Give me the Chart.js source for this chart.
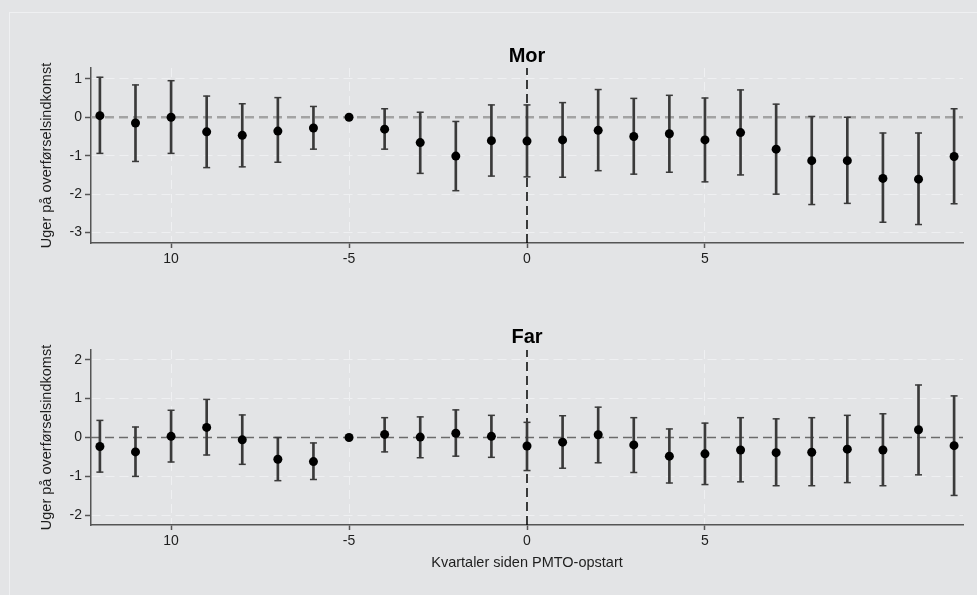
<!DOCTYPE html>
<html lang="da">
<head>
    <meta charset="UTF-8">
    <title>Uger på overførselsindkomst</title>
    <script src="https://cdn.jsdelivr.net/npm/chart.js"></script>
    <style>
        body {
            margin: 0;
            width: 977px;
            height: 595px;
            overflow: hidden;
            background-color: #e3e4e6;
            font-family: "Liberation Sans", Arial, sans-serif;
        }
        .ramme {
            position: absolute;
            left: 9px;
            top: 12px;
            right: 0;
            bottom: 0;
            border-left: 1px solid #eff0f2;
            border-top: 1px solid #eff0f2;
        }
        canvas {
            position: absolute;
            left: 0;
        }
        #graf_mor { top: 0; }
        #graf_far { top: 290px; }
    </style>
</head>
<body>
    <div class="ramme"></div>
    <canvas id="graf_mor" width="977" height="290"></canvas>
    <canvas id="graf_far" width="977" height="305"></canvas>

    <script>
        // Kvartaler relativt til PMTO-opstart (kvartal -5 er referencen)
        const kvartaler = [-12, -11, -10, -9, -8, -7, -6, -5, -4, -3, -2, -1, 0, 1, 2, 3, 4, 5, 6, 7, 8, 9, 10, 11, 12];

        // Estimater og 95%-konfidensintervaller, mor
        const morEst = [0.04, -0.15, 0.00, -0.38, -0.47, -0.36, -0.28, 0, -0.31, -0.66, -1.01, -0.61, -0.62, -0.59, -0.34, -0.50, -0.43, -0.59, -0.40, -0.83, -1.13, -1.13, -1.59, -1.61, -1.02];
        const morLav = [-0.94, -1.15, -0.94, -1.31, -1.29, -1.17, -0.83, null, -0.83, -1.46, -1.91, -1.53, -1.55, -1.56, -1.39, -1.48, -1.43, -1.68, -1.50, -2.00, -2.27, -2.24, -2.73, -2.79, -2.25];
        const morHoj = [1.04, 0.84, 0.95, 0.55, 0.35, 0.51, 0.28, null, 0.22, 0.13, -0.11, 0.32, 0.32, 0.38, 0.72, 0.49, 0.57, 0.50, 0.71, 0.34, 0.02, 0.00, -0.41, -0.41, 0.22];

        // Estimater og 95%-konfidensintervaller, far
        const farEst = [-0.23, -0.37, 0.03, 0.26, -0.06, -0.56, -0.62, 0, 0.08, 0.01, 0.11, 0.03, -0.22, -0.12, 0.07, -0.19, -0.48, -0.42, -0.32, -0.39, -0.38, -0.30, -0.32, 0.20, -0.21];
        const farLav = [-0.89, -1.00, -0.63, -0.45, -0.69, -1.11, -1.08, null, -0.37, -0.52, -0.48, -0.51, -0.85, -0.79, -0.65, -0.90, -1.17, -1.21, -1.14, -1.24, -1.24, -1.16, -1.24, -0.96, -1.49];
        const farHoj = [0.44, 0.27, 0.70, 0.98, 0.58, 0.00, -0.14, null, 0.51, 0.53, 0.71, 0.57, 0.39, 0.56, 0.78, 0.51, 0.22, 0.37, 0.51, 0.48, 0.51, 0.57, 0.61, 1.35, 1.07];

        // Akser
        const xTicks = [-10, -5, 0, 5];
        const xTickLabels = ['10', '-5', '0', '5'];
        const yTicksMor = [-3, -2, -1, 0, 1];
        const yTicksFar = [-2, -1, 0, 1, 2];

        const FONT = '"Liberation Sans", Arial, sans-serif';
        Chart.defaults.font.family = FONT;
        Chart.defaults.color = '#1e1e1e';

        const gitterFarve = '#eff0f2';
        const aksefarve = '#555555';

        // Panel-titel centreret over plotområdet
        const panelTitel = {
            id: 'panelTitel',
            afterDraw(chart, args, opts) {
                const { ctx, chartArea } = chart;
                ctx.save();
                ctx.font = 'bold 20px ' + FONT;
                ctx.fillStyle = '#000';
                ctx.textAlign = 'center';
                ctx.textBaseline = 'alphabetic';
                ctx.fillText(opts.text, (chartArea.left + chartArea.right) / 2, opts.y);
                ctx.restore();
            }
        };

        function lavGraf(id, cfg) {
            const xMin = -12.25, xMax = 12.25;

            const punkter = kvartaler.map((q, i) => ({ x: q, y: cfg.est[i] }));
            const ci = kvartaler
                .map((q, i) => ({ x: q, y: [cfg.lav[i], cfg.hoj[i]] }))
                .filter(d => d.y[0] !== null);
            const toppe = ci.map(d => ({ x: d.x, y: d.y[1] }));
            const bunde = ci.map(d => ({ x: d.x, y: d.y[0] }));

            return new Chart(document.getElementById(id), {
                type: 'scatter',
                data: {
                    datasets: [
                        {
                            // nul-linje
                            type: 'line',
                            data: [{ x: xMin, y: 0 }, { x: xMax, y: 0 }],
                            borderColor: cfg.nulFarve,
                            borderWidth: cfg.nulBredde,
                            borderDash: [9, 5],
                            pointRadius: 0,
                            order: 5
                        },
                        {
                            // PMTO-opstart
                            type: 'line',
                            data: [{ x: 0, y: cfg.yMin }, { x: 0, y: cfg.yMax }],
                            borderColor: '#000',
                            borderWidth: 1.5,
                            borderDash: [9, 5],
                            pointRadius: 0,
                            order: 4
                        },
                        {
                            type: 'bar',
                            data: ci,
                            backgroundColor: '#3a3a3a',
                            barThickness: 2,
                            order: 3
                        },
                        {
                            data: toppe,
                            pointStyle: 'line',
                            pointRadius: 3.5,
                            pointBorderColor: '#3a3a3a',
                            pointBorderWidth: 1.5,
                            order: 2
                        },
                        {
                            data: bunde,
                            pointStyle: 'line',
                            pointRadius: 3.5,
                            pointBorderColor: '#3a3a3a',
                            pointBorderWidth: 1.5,
                            order: 2
                        },
                        {
                            data: punkter,
                            pointRadius: 4.5,
                            pointBackgroundColor: '#000',
                            pointBorderWidth: 0,
                            order: 1
                        }
                    ]
                },
                options: {
                    responsive: false,
                    animation: false,
                    events: [],
                    layout: { padding: { top: cfg.top, right: 14, left: 0, bottom: 0 } },
                    plugins: {
                        legend: { display: false },
                        tooltip: { enabled: false },
                        panelTitel: { text: cfg.titel, y: cfg.titelY }
                    },
                    scales: {
                        x: {
                            type: 'linear',
                            min: xMin,
                            max: xMax,
                            offset: false,
                            afterBuildTicks: s => { s.ticks = xTicks.map(v => ({ value: v })); },
                            afterFit: s => { s.height = cfg.xHojde; },
                            ticks: {
                                font: { size: 14 },
                                padding: 3,
                                maxRotation: 0,
                                callback: v => xTickLabels[xTicks.indexOf(v)]
                            },
                            grid: {
                                offset: false,
                                color: gitterFarve,
                                lineWidth: 1,
                                tickColor: aksefarve,
                                tickLength: 5,
                                tickWidth: 1.5
                            },
                            border: { color: aksefarve, width: 1.5, dash: [9, 5] },
                            title: {
                                display: cfg.xTitel !== '',
                                text: cfg.xTitel,
                                font: { size: 14.5 },
                                padding: { top: 0, bottom: 23 }
                            }
                        },
                        y: {
                            type: 'linear',
                            min: cfg.yMin,
                            max: cfg.yMax,
                            afterBuildTicks: s => { s.ticks = cfg.yTicks.map(v => ({ value: v })); },
                            afterFit: s => { s.width = 91; },
                            ticks: { font: { size: 14 }, padding: 3 },
                            grid: {
                                color: c => (c.tick && c.tick.value === 0) ? 'rgba(0,0,0,0)' : gitterFarve,
                                lineWidth: 1,
                                tickColor: aksefarve,
                                tickLength: 6,
                                tickWidth: 1.5
                            },
                            border: { color: aksefarve, width: 1.5, dash: [9, 5] },
                            title: {
                                display: true,
                                text: 'Uger på overførselsindkomst',
                                font: { size: 14.5 },
                                padding: { top: 38, bottom: 0 }
                            }
                        }
                    }
                },
                plugins: [panelTitel]
            });
        }

        lavGraf('graf_mor', {
            titel: 'Mor', titelY: 62, top: 68, xHojde: 47,
            est: morEst, lav: morLav, hoj: morHoj,
            yMin: -3.27, yMax: 1.28, yTicks: yTicksMor,
            nulFarve: '#a3a3a3', nulBredde: 2.5,
            xTitel: ''
        });

        lavGraf('graf_far', {
            titel: 'Far', titelY: 53, top: 60, xHojde: 70,
            est: farEst, lav: farLav, hoj: farHoj,
            yMin: -2.25, yMax: 2.25, yTicks: yTicksFar,
            nulFarve: '#6b6b6b', nulBredde: 1.3,
            xTitel: 'Kvartaler siden PMTO-opstart'
        });
    </script>
</body>
</html>
